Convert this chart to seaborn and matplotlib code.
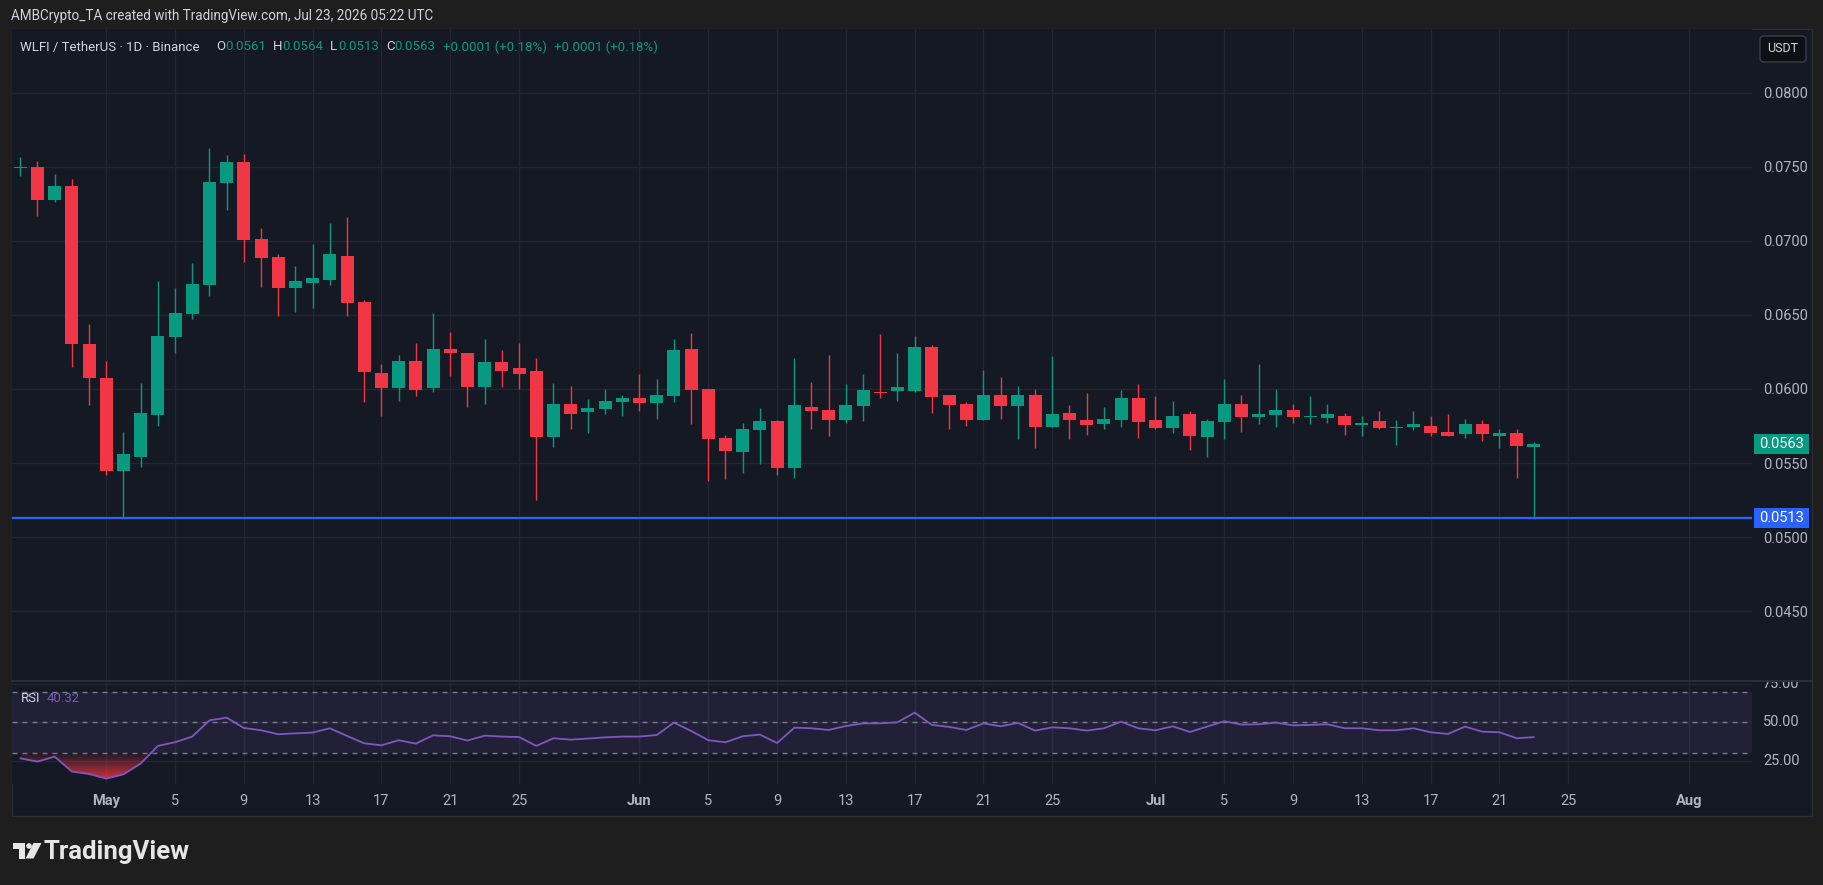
import numpy as np
import pandas as pd
import seaborn as sns
import matplotlib.pyplot as plt
import matplotlib.dates as mdates
from matplotlib.patches import Rectangle, FancyBboxPatch, Circle, Polygon
from matplotlib.lines import Line2D
from matplotlib.path import Path
from matplotlib.transforms import blended_transform_factory, IdentityTransform, Bbox, TransformedBbox
from matplotlib.colors import LinearSegmentedColormap

# daily WLFI/USDT candles, Apr 26 - Jul 23
dates = pd.date_range('2026-04-26', '2026-07-23', freq='D')
opens = [0.07490, 0.07500, 0.07277, 0.07372, 0.06306, 0.06074, 0.05446, 0.05543, 0.05824, 0.06351,
         0.06507, 0.06703, 0.07392, 0.07534, 0.07014, 0.06892, 0.06682, 0.06716, 0.06736, 0.06899,
         0.06588, 0.06108, 0.06007, 0.06189, 0.06007, 0.06270, 0.06241, 0.06016, 0.06182, 0.06142,
         0.06122, 0.05678, 0.05899, 0.05847, 0.05867, 0.05914, 0.05939, 0.05908, 0.05955, 0.06270,
         0.06000, 0.05669, 0.05574, 0.05723, 0.05784, 0.05466, 0.05878, 0.05858, 0.05790, 0.05885,
         0.05982, 0.05989, 0.05986, 0.06284, 0.05959, 0.05899, 0.05791, 0.05959, 0.05885, 0.05959,
         0.05743, 0.05838, 0.05791, 0.05764, 0.05791, 0.05939, 0.05791, 0.05736, 0.05831, 0.05676,
         0.05777, 0.05899, 0.05811, 0.05824, 0.05858, 0.05811, 0.05804, 0.05818, 0.05757, 0.05784,
         0.05736, 0.05743, 0.05750, 0.05709, 0.05696, 0.05764, 0.05682, 0.05703, 0.05610]
highs = [0.07570, 0.07540, 0.07450, 0.07420, 0.06439, 0.06189, 0.05707, 0.06041, 0.06730, 0.06682,
         0.06851, 0.07628, 0.07581, 0.07588, 0.07088, 0.06912, 0.06831, 0.06980, 0.07122, 0.07162,
         0.06601, 0.06169, 0.06230, 0.06311, 0.06514, 0.06387, 0.06245, 0.06338, 0.06264, 0.06313,
         0.06207, 0.06040, 0.06020, 0.05932, 0.06000, 0.05959, 0.06101, 0.06068, 0.06338, 0.06378,
         0.06000, 0.05689, 0.05770, 0.05872, 0.05790, 0.06210, 0.06047, 0.06230, 0.06034, 0.06101,
         0.06372, 0.06243, 0.06358, 0.06297, 0.05960, 0.05912, 0.06128, 0.06081, 0.06020, 0.06000,
         0.06223, 0.05892, 0.05973, 0.05878, 0.05993, 0.06034, 0.05953, 0.05919, 0.05851, 0.05797,
         0.06068, 0.05959, 0.06169, 0.06000, 0.05899, 0.05953, 0.05899, 0.05838, 0.05818, 0.05851,
         0.05791, 0.05851, 0.05818, 0.05831, 0.05797, 0.05791, 0.05730, 0.05730, 0.05640]
lows = [0.07440, 0.07170, 0.07264, 0.06151, 0.05892, 0.05419, 0.05130, 0.05473, 0.05750, 0.06245,
        0.06475, 0.06631, 0.07210, 0.06858, 0.06689, 0.06493, 0.06518, 0.06547, 0.06703, 0.06493,
        0.05914, 0.05818, 0.05919, 0.05953, 0.05980, 0.06090, 0.05881, 0.05901, 0.06014, 0.06000,
        0.05250, 0.05610, 0.05732, 0.05705, 0.05833, 0.05820, 0.05854, 0.05800, 0.05914, 0.05766,
        0.05381, 0.05394, 0.05435, 0.05493, 0.05421, 0.05401, 0.05730, 0.05682, 0.05773, 0.05784,
        0.05941, 0.05921, 0.05980, 0.05840, 0.05732, 0.05750, 0.05790, 0.05797, 0.05662, 0.05601,
        0.05740, 0.05662, 0.05689, 0.05730, 0.05743, 0.05669, 0.05730, 0.05703, 0.05588, 0.05541,
        0.05662, 0.05709, 0.05764, 0.05743, 0.05770, 0.05764, 0.05770, 0.05689, 0.05682, 0.05730,
        0.05622, 0.05723, 0.05682, 0.05682, 0.05669, 0.05649, 0.05601, 0.05399, 0.05130]
closes = [0.07500, 0.07277, 0.07372, 0.06306, 0.06074, 0.05446, 0.05561, 0.05838, 0.06358, 0.06514,
          0.06710, 0.07399, 0.07534, 0.07007, 0.06885, 0.06682, 0.06730, 0.06750, 0.06912, 0.06581,
          0.06115, 0.06007, 0.06189, 0.05993, 0.06270, 0.06241, 0.06016, 0.06182, 0.06124, 0.06104,
          0.05678, 0.05899, 0.05833, 0.05872, 0.05919, 0.05941, 0.05908, 0.05959, 0.06264, 0.05995,
          0.05664, 0.05581, 0.05730, 0.05784, 0.05466, 0.05892, 0.05851, 0.05790, 0.05892, 0.05993,
          0.05973, 0.06014, 0.06284, 0.05948, 0.05892, 0.05791, 0.05959, 0.05885, 0.05959, 0.05743,
          0.05831, 0.05791, 0.05757, 0.05797, 0.05939, 0.05777, 0.05736, 0.05818, 0.05682, 0.05784,
          0.05899, 0.05811, 0.05831, 0.05858, 0.05811, 0.05818, 0.05831, 0.05757, 0.05770, 0.05736,
          0.05743, 0.05764, 0.05703, 0.05682, 0.05764, 0.05696, 0.05703, 0.05615, 0.05630]
rsi = [26.5, 24.4, 27.6, 17.9, 16.3, 13.3, 16.1, 23.1, 34.6, 37.0,
       40.7, 51.3, 53.0, 46.3, 44.8, 42.2, 42.8, 43.3, 46.1, 41.1,
       36.3, 35.0, 38.3, 36.1, 41.5, 40.9, 38.1, 41.3, 40.7, 40.4,
       34.6, 39.6, 38.7, 39.4, 40.2, 40.7, 40.7, 41.7, 49.8, 44.4,
       38.3, 37.0, 40.9, 42.0, 36.5, 46.5, 46.1, 45.0, 47.6, 49.3,
       49.3, 50.0, 56.3, 48.3, 47.0, 45.0, 49.3, 47.4, 49.6, 44.6,
       46.7, 46.1, 44.6, 46.1, 50.4, 46.1, 44.8, 47.4, 43.7, 47.2,
       50.7, 48.5, 48.7, 49.8, 48.0, 48.3, 48.7, 46.1, 46.1, 44.8,
       44.8, 46.1, 43.5, 42.4, 47.2, 43.9, 43.5, 39.6, 40.32]

price_ticks = [0.045, 0.050, 0.055, 0.060, 0.065, 0.070, 0.075, 0.080]
rsi_ticks = [25, 50, 75]
rsi_levels = [70, 50, 30]
date_ticks = ['2026-05-01', '2026-05-05', '2026-05-09', '2026-05-13', '2026-05-17', '2026-05-21',
              '2026-05-25', '2026-06-01', '2026-06-05', '2026-06-09', '2026-06-13', '2026-06-17',
              '2026-06-21', '2026-06-25', '2026-07-01', '2026-07-05', '2026-07-09', '2026-07-13',
              '2026-07-17', '2026-07-21', '2026-07-25', '2026-08-01']
cut_tick = '2026-08-05'
support = 0.0513
change_text = '+0.0001 (+0.18%)'

BG = '#151924'
GREEN = '#089981'
RED = '#f23645'
GRID = '#222633'
TXT = '#b2b5be'
PURPLE = '#7e57c2'

sns.set_style('dark')
plt.rcParams['font.family'] = ['Roboto', 'DejaVu Sans']

W, H = 1824, 885
fig = plt.figure(figsize=(W / 100, H / 100), dpi=100, facecolor='#1e1e1e')
PX = IdentityTransform()

# chart panel
fig.add_artist(Rectangle((12, H - 816), 1800, 787, transform=PX, facecolor=BG,
                         edgecolor='#2a2e39', lw=1, zorder=0))

ax = fig.add_axes([12 / W, 1 - 680 / H, 1740 / W, 651 / H])
ax2 = fig.add_axes([12 / W, 1 - 784 / H, 1740 / W, 103 / H])

df = pd.DataFrame({'date': dates, 'open': opens, 'high': highs, 'low': lows, 'close': closes, 'rsi': rsi})
df['x'] = mdates.date2num(df['date'])
up = df['close'] >= df['open']
colors = [GREEN if u else RED for u in up]
xmin, xmax = df['x'].iloc[0] - 0.48, df['x'].iloc[0] + 100.68

# ---- price pane
ax.set_facecolor(BG)
ax.vlines(df['x'], df['low'], df['high'], colors=colors, lw=1, zorder=3)
body_low = df[['open', 'close']].min(axis=1)
body_h = (df['close'] - df['open']).abs().clip(lower=0.00007)
ax.bar(df['x'], body_h, bottom=body_low, width=0.76, color=colors, lw=0, zorder=4)
ax.axhline(support, color='#2962ff', lw=1.6, zorder=5)

ax.set_xlim(xmin, xmax)
ax.set_ylim(0.04034, 0.08432)
tick_x = mdates.date2num(pd.to_datetime(date_ticks))
ax.set_xticks(tick_x)
ax.set_xticklabels([])
ax.set_yticks(price_ticks)
ax.set_yticklabels([f'{v:.4f}' for v in price_ticks])
ax.yaxis.tick_right()
ax.tick_params(axis='both', length=0)
ax.tick_params(axis='y', pad=8, labelsize=10.5, labelcolor=TXT)
ax.grid(True, color=GRID, lw=1)
ax.set_axisbelow(True)
for s in ax.spines.values():
    s.set_visible(False)

# price tags on the axis
blend = blended_transform_factory(ax.transAxes, ax.transData)
pxd = (ax.get_ylim()[1] - ax.get_ylim()[0]) / 651
for price, col in [(closes[-1], GREEN), (support, '#2962ff')]:
    ax.add_patch(Rectangle(((1754 - 12) / 1740, price - 10 * pxd), 55 / 1740, 20 * pxd,
                           transform=blend, facecolor=col, lw=0, clip_on=False, zorder=6))
    ax.text((1781.5 - 12) / 1740, price, f'{price:.4f}', transform=blend, ha='center', va='center',
            color='white', fontsize=10.5, clip_on=False, zorder=7)

# ---- RSI pane
ax2.set_facecolor(BG)
ax2.axhspan(30, 70, color=PURPLE, alpha=0.12, lw=0)
for lvl in rsi_levels:
    ax2.axhline(lvl, color='#787b86', lw=1, ls=(0, (3.6, 3.6)), zorder=2)
sns.lineplot(x=df['x'], y=df['rsi'], ax=ax2, color=PURPLE, lw=1.3, zorder=4)

below = df['rsi'] < 30
fill = ax2.fill_between(df['x'], df['rsi'], 30, where=below, interpolate=True,
                        facecolor='none', edgecolor='none')
clip = Path.make_compound_path(*fill.get_paths())
red_cmap = LinearSegmentedColormap.from_list('rsi_red', [(0.95, 0.21, 0.27, 0.05), (0.95, 0.21, 0.27, 0.9)])
grad = np.linspace(1, 0, 100).reshape(-1, 1)
im = ax2.imshow(grad, extent=(xmin, xmax, 12, 30), origin='lower', aspect='auto', cmap=red_cmap, zorder=3)
im.set_clip_path(clip, transform=ax2.transData)

ax2.set_xlim(xmin, xmax)
ax2.set_ylim(9.8, 76.9)
ax2.set_xticks(tick_x)
tick_dates = pd.to_datetime(date_ticks)
ax2.set_xticklabels([d.strftime('%b') if d.day == 1 else str(d.day) for d in tick_dates])
for lab, d in zip(ax2.get_xticklabels(), tick_dates):
    if d.day == 1:
        lab.set_fontweight('bold')
ax2.set_yticks(rsi_ticks)
ax2.set_yticklabels([])
ax2.tick_params(axis='both', length=0)
ax2.tick_params(axis='x', pad=7, labelsize=10.5, labelcolor=TXT)
ax2.grid(True, color=GRID, lw=1)
ax2.set_xlabel('')
ax2.set_ylabel('')
for s in ax2.spines.values():
    s.set_visible(False)

blend2 = blended_transform_factory(ax2.transAxes, ax2.transData)
top_clip = TransformedBbox(Bbox.from_extents(0, 0, 1, 1 - 681 / H), fig.transFigure)
for v in rsi_ticks:
    t = ax2.text((1763 - 12) / 1740, v, f'{v:.2f}', transform=blend2, ha='left', va='center',
                 color=TXT, fontsize=10.5)
    t.set_clip_on(True)
    t.set_clip_path(None)
    t.set_clip_box(top_clip)

blend3 = blended_transform_factory(ax2.transData, ax2.transAxes)
right_clip = TransformedBbox(Bbox.from_extents(0, 0, 1753 / W, 1), fig.transFigure)
t = ax2.text(mdates.date2num(pd.Timestamp(cut_tick)), -0.155, str(pd.Timestamp(cut_tick).day),
             transform=blend3, ha='center', va='center', color=TXT, fontsize=10.5)
t.set_clip_on(True)
t.set_clip_path(None)
t.set_clip_box(right_clip)

# pane separator
fig.add_artist(Line2D([12, 1812], [H - 680.5, H - 680.5], transform=PX, color='#2a2e39', lw=1.5))

# ---- texts
fig.text(11, H - 16, 'AMBCrypto_TA created with TradingView.com, Jul 23, 2026 05:22 UTC',
         transform=PX, color='#d1d4dc', fontsize=9.75, va='center')

legend = [('WLFI / TetherUS · 1D · Binance', 20, '#d1d4dc'),
          ('O', 216, '#d1d4dc'), (f'{opens[-1]:.4f}', 225, GREEN),
          ('H', 273, '#d1d4dc'), (f'{highs[-1]:.4f}', 282, GREEN),
          ('L', 330, '#d1d4dc'), (f'{lows[-1]:.4f}', 338, GREEN),
          ('C', 386, '#d1d4dc'), (f'{closes[-1]:.4f}', 394, GREEN),
          (change_text, 443, GREEN), (change_text, 553.6, GREEN)]
for s, xp, col in legend:
    fig.text(xp, H - 47, s, transform=PX, color=col, fontsize=9.5, va='center')

fig.text(21, H - 698, 'RSI', transform=PX, color='#d1d4dc', fontsize=9.5, va='center')
fig.text(47, H - 698, f'{rsi[-1]:.2f}', transform=PX, color=PURPLE, fontsize=9.5, va='center')

# USDT box
fig.add_artist(FancyBboxPatch((1760, H - 62), 46, 26, boxstyle='round,pad=0,rounding_size=4',
                              transform=PX, facecolor='#0e1016', edgecolor='#3a3e4a', lw=1))
fig.text(1783, H - 49, 'USDT', transform=PX, color='#d1d4dc', fontsize=9, ha='center', va='center')

# TradingView logo
logo = '#e6e6e6'
fig.add_artist(Rectangle((13, H - 848.5), 11.5, 5.5, transform=PX, facecolor=logo, lw=0))
fig.add_artist(Rectangle((18.5, H - 858.5), 6, 15.5, transform=PX, facecolor=logo, lw=0))
fig.add_artist(Circle((29, H - 846), 2.8, transform=PX, facecolor=logo, lw=0))
fig.add_artist(Polygon([(33.5, H - 843), (41.5, H - 843), (33.5, H - 858.5), (25.5, H - 858.5)],
                       transform=PX, facecolor=logo, lw=0))
fig.text(44, H - 858.5, 'TradingView', transform=PX, color=logo, fontsize=18.5,
         fontweight='bold', va='baseline')

fig.savefig('out.png', dpi=100, facecolor=fig.get_facecolor())
